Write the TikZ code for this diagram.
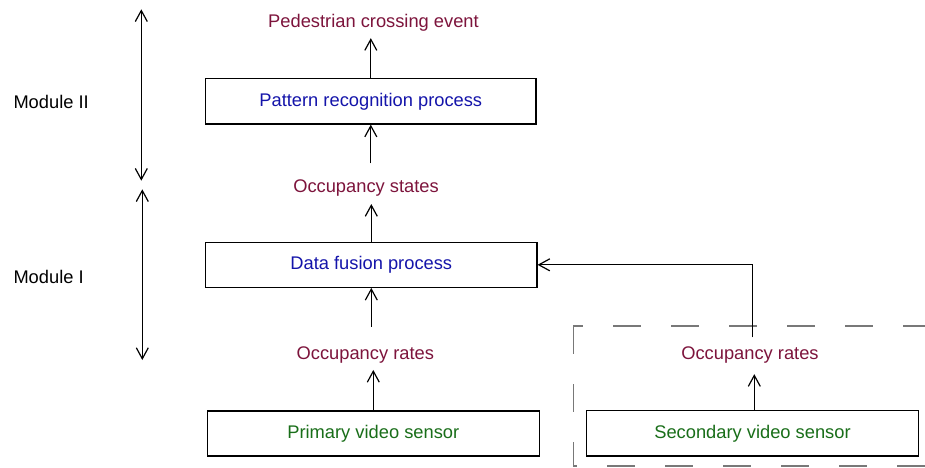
\documentclass[tikz,border=0pt]{standalone}
\usepackage{fontspec}
\setmainfont{Liberation Sans}
\usetikzlibrary{arrows.meta}
\definecolor{lblred}{RGB}{125,20,60}
\definecolor{lblblue}{RGB}{20,20,170}
\definecolor{lblgreen}{RGB}{25,110,25}
\definecolor{dashgray}{RGB}{120,120,120}
\tikzset{
  every node/.style={font=\fontsize{18.3}{22}\selectfont},
  txt/.style={inner sep=0pt, text height=13.1pt, text depth=0pt},
  box/.style={draw=black, line width=1.2pt, inner sep=0pt, minimum height=45pt},
  arr/.style={line width=1.2pt, -{Straight Barb[length=11pt,width=12pt,line width=1.2pt]}},
  darr/.style={line width=1.2pt, {Straight Barb[length=11pt,width=12pt,line width=1.2pt]}-{Straight Barb[length=11pt,width=12pt,line width=1.2pt]}},
  grpbox/.style={draw=dashgray, line width=1.3pt, dash pattern=on 28pt off 30pt}
}
\begin{document}
\begin{tikzpicture}[x=1pt,y=-1pt]
\useasboundingbox (0,0) rectangle (925,467);
\clip (0,0) rectangle (925,467);
\fill[white] (0,0) rectangle (925,467);

% dashed group box (extends past right edge)
\draw[grpbox] (573.3,326) rectangle (960,466);

% module labels and arrows
\node[txt, anchor=west] (modII) at (13.3,101.7) {Module II};
\node[txt, anchor=west] (modI) at (13.3,277.3) {Module I};
\coordinate (m2top) at (141.3,9.3);
\coordinate (m2bot) at (141.3,180.7);
\coordinate (m1top) at (142.3,189.3);
\coordinate (m1bot) at (142.3,360);
\draw[darr] (m2top) -- (m2bot);
\draw[darr] (m1top) -- (m1bot);

% boxes
\node[box, minimum width=330.3pt, minimum height=45.3pt, text=lblblue] (prp) at (370.8,101.35) {Pattern recognition process};
\node[box, minimum width=331.3pt, text=lblblue] (dfp) at (371.3,264.8) {Data fusion process};
\node[box, minimum width=332pt, text=lblgreen] (pvs) at (373.3,433.5) {Primary video sensor};
\node[box, minimum width=331.6pt, minimum height=45.3pt, text=lblgreen] (svs) at (752.5,433.35) {Secondary video sensor};

% labels
\node[txt, text=lblred] (pce) at (373.5,20.8) {Pedestrian crossing event};
\node[txt, text=lblred] (os) at (366,186) {Occupancy states};
\node[txt, text=lblred] (orl) at (365.3,352.5) {Occupancy rates};
\node[txt, text=lblred] (orr) at (750,352.7) {Occupancy rates};

% connectors
\draw[arr, shorten >=10.6pt] (prp.north) -- (prp.north |- pce.south);
\draw[arr, shorten <=16pt] (prp.south |- os.north) -- (prp.south);
\draw[arr, shorten >=11.3pt] (dfp.north) -- (dfp.north |- os.south);
\draw[arr, shorten <=19pt] (dfp.south |- orl.north) -- (dfp.south);
\draw[arr, shorten >=10.7pt] (pvs.north) -- (pvs.north |- orl.south);
\draw[arr, shorten >=14.7pt] ([xshift=1.8pt]svs.north) -- ([xshift=1.8pt]svs.north |- orr.south);
\draw[arr, shorten <=8.7pt] ([xshift=2.7pt]orr.north) |- (dfp.east);
\end{tikzpicture}
\end{document}
